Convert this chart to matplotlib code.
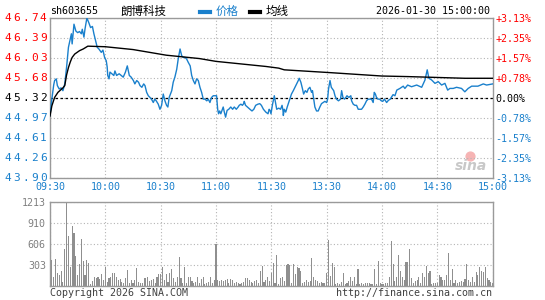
import matplotlib.pyplot as plt
from matplotlib.lines import Line2D

plt.rcParams['font.family'] = ['DejaVu Sans Mono', 'Noto Sans CJK SC']

# header texts
code = "sh603655"
name = "朗博科技"
stamp = "2026-01-30 15:00:00"
legend_names = ["价格", "均线"]

prev_close = 45.32
price_ticks = [43.90, 44.26, 44.61, 44.97, 45.32, 45.68, 46.03, 46.39, 46.74]
pct_labels = ["-3.13%", "-2.35%", "-1.57%", "-0.78%", "0.00%",
              "+0.78%", "+1.57%", "+2.35%", "+3.13%"]
time_labels = ["09:30", "10:00", "10:30", "11:00", "11:30",
               "13:30", "14:00", "14:30", "15:00"]
vol_ticks = [303, 606, 910, 1213]

# minutes since the open, price
t_price = [0, 1, 2, 2.5, 3.4, 4, 5, 6, 7, 8,
           9, 10, 11, 11.6, 12, 13, 14, 15, 16, 17,
           17.5, 18.4, 19, 20, 21, 22, 23, 23.8, 24.7, 25.6,
           26.5, 27.8, 28.7, 29.6, 30.5, 31, 31.3, 32, 32.5, 34.6,
           35.2, 36.1, 37.5, 38.6, 39.7, 40.9, 41.9, 43, 44, 45.2,
           46, 47, 48, 48.8, 49.8, 50.8, 51.5, 52.4, 53.3, 54.2,
           55, 56, 56.8, 57.6, 58.7, 59.6, 60.5, 61.4, 62.3, 63.2,
           63.9, 64.6, 66, 66.8, 67.7, 68.7, 69.5, 70.5, 71.4, 72.3,
           73.2, 74.1, 75, 76, 76.8, 77.7, 78.6, 79.5, 80.4, 81.3,
           82.2, 83.1, 84, 85, 85.8, 86.7, 87.6, 88.5, 90.3, 90.9,
           91.4, 92, 92.6, 93.9, 94.5, 95.2, 96, 96.9, 98, 99,
           99.9, 101, 102, 102.6, 103.5, 104.3, 105, 105.3, 106, 107,
           108.4, 109.5, 110.5, 111.5, 112.7, 113.7, 114.6, 115.7, 117, 118.2,
           118.8, 119.3, 119.8, 120.6, 121.6, 122.9, 124, 125, 125.8, 126.3,
           126.5, 127, 127.8, 128.6, 129.4, 130, 130.9, 131.9, 132.8, 133.7,
           134.6, 135.1, 136, 136.9, 137.5, 138.4, 139.3, 140, 140.9, 141.8,
           142.3, 143, 143.6, 144.5, 145.4, 146.3, 147.2, 148.1, 149, 150,
           150.5, 151, 151.8, 152.5, 153.8, 154.5, 155.3, 156.4, 157.5, 158.1,
           158.8, 159.6, 160.4, 161, 162, 163.1, 163.5, 164.4, 165.3, 166.2,
           167.1, 168, 168.9, 169.8, 170.7, 171.6, 172.5, 173.4, 174.3, 175.2,
           175.8, 176.4, 177, 177.8, 178.7, 179.6, 180.4, 181.3, 182.5, 183.5,
           184.5, 185.2, 186, 187, 188, 189.7, 191.5, 192.4, 193.9, 196,
           198.8, 201.5, 203.3, 204.5, 205.4, 206.9, 208.7, 210.5, 212.3, 214.1,
           215.6, 216.8, 218.6, 220.4, 223.1, 224.9, 226.7, 228.6, 232, 234.9,
           236.7, 240]
price = [45.01, 45.30, 45.55, 45.63, 45.66, 45.54, 45.48, 45.50, 45.45, 45.57,
         45.87, 46.22, 46.37, 46.46, 46.28, 46.63, 46.51, 46.48, 46.50, 46.46,
         46.54, 46.40, 46.55, 46.74, 46.66, 46.57, 46.59, 46.46, 46.34, 46.22,
         46.19, 46.13, 46.17, 46.04, 45.98, 45.87, 45.72, 45.66, 45.78, 45.72,
         45.80, 45.72, 45.75, 45.72, 45.69, 45.78, 45.89, 45.72, 45.69, 45.63,
         45.57, 45.63, 45.60, 45.54, 45.51, 45.57, 45.54, 45.42, 45.36, 45.33,
         45.30, 45.24, 45.30, 45.27, 45.21, 45.12, 45.19, 45.39, 45.27, 45.19,
         45.16, 45.33, 45.45, 45.60, 45.69, 45.83, 46.01, 46.19, 46.07, 46.04,
         46.04, 46.01, 45.95, 45.89, 45.72, 45.63, 45.57, 45.66, 45.63, 45.51,
         45.42, 45.30, 45.30, 45.27, 45.30, 45.24, 45.33, 45.36, 45.36, 45.12,
         45.04, 45.09, 45.04, 45.16, 45.07, 44.98, 45.10, 45.12, 45.16, 45.12,
         45.16, 45.12, 45.16, 45.19, 45.21, 45.19, 45.22, 45.26, 45.19, 45.16,
         45.12, 45.09, 45.12, 45.19, 45.21, 45.22, 45.19, 45.12, 45.07, 45.04,
         45.12, 45.10, 45.04, 45.20, 45.36, 45.12, 45.14, 45.12, 45.19, 45.10,
         45.01, 45.12, 45.07, 45.16, 45.24, 45.30, 45.39, 45.45, 45.51, 45.57,
         45.63, 45.67, 45.60, 45.48, 45.39, 45.45, 45.42, 45.48, 45.51, 45.42,
         45.45, 45.30, 45.16, 45.09, 45.09, 45.16, 45.22, 45.24, 45.26, 45.24,
         45.30, 45.48, 45.63, 45.51, 45.45, 45.36, 45.30, 45.27, 45.30, 45.45,
         45.33, 45.30, 45.33, 45.36, 45.33, 45.36, 45.27, 45.21, 45.19, 45.19,
         45.12, 45.12, 45.12, 45.16, 45.21, 45.27, 45.30, 45.30, 45.30, 45.24,
         45.42, 45.39, 45.33, 45.30, 45.30, 45.27, 45.26, 45.30, 45.24, 45.28,
         45.30, 45.34, 45.38, 45.36, 45.46, 45.49, 45.53, 45.49, 45.55, 45.52,
         45.55, 45.51, 45.64, 45.82, 45.67, 45.64, 45.58, 45.61, 45.55, 45.58,
         45.46, 45.49, 45.49, 45.51, 45.49, 45.43, 45.49, 45.53, 45.53, 45.57,
         45.55, 45.57]

# average price line
t_avg = [0, 1, 2.5, 4.3, 7, 8, 9, 10, 11, 12,
         13.4, 16, 18, 20.5, 30, 45, 63, 81, 90, 105,
         117, 124, 127, 152, 180, 194, 225, 240]
avg = [45.00, 45.18, 45.33, 45.42, 45.50, 45.54, 45.73, 45.86, 45.96, 46.04,
       46.10, 46.16, 46.19, 46.24, 46.23, 46.18, 46.08, 46.02, 45.97, 45.92,
       45.88, 45.85, 45.82, 45.77, 45.71, 45.70, 45.67, 45.67]

# volume per minute (241 minutes)
volume = [58, 370, 120, 385, 188, 154, 212, 58, 529, 1213,
          722, 274, 866, 755, 433, 154, 313, 678, 361, 154,
          370, 332, 24, 72, 120, 106, 120, 96, 168, 82,
          265, 58, 106, 130, 178, 178, 120, 82, 96, 58,
          34, 106, 226, 43, 82, 34, 82, 250, 58, 34,
          34, 106, 106, 120, 72, 82, 91, 34, 120, 168,
          168, 274, 82, 168, 58, 188, 236, 106, 58, 130,
          409, 106, 43, 265, 34, 120, 120, 72, 34, 58,
          130, 34, 91, 130, 24, 43, 58, 130, 43, 82,
          601, 82, 72, 82, 72, 82, 91, 43, 91, 82,
          34, 58, 43, 24, 34, 58, 106, 106, 82, 58,
          43, 72, 82, 34, 216, 284, 58, 82, 120, 72,
          188, 332, 34, 442, 24, 106, 120, 72, 298, 313,
          298, 34, 313, 168, 265, 250, 216, 34, 58, 82,
          58, 72, 404, 120, 82, 72, 43, 58, 34, 43,
          188, 659, 140, 332, 265, 24, 34, 24, 58, 188,
          24, 34, 72, 120, 72, 120, 24, 240, 24, 43,
          24, 34, 34, 34, 24, 24, 240, 24, 361, 34,
          24, 24, 34, 34, 120, 645, 313, 72, 120, 442,
          216, 120, 82, 337, 346, 529, 106, 34, 72, 82,
          120, 34, 178, 120, 284, 188, 216, 24, 34, 43,
          34, 154, 120, 82, 82, 154, 476, 82, 240, 34,
          82, 34, 58, 72, 58, 91, 313, 82, 58, 130,
          58, 202, 154, 265, 216, 202, 274, 106, 82, 58,
          34]

blue = '#1a80cc'
red = '#ff0000'
spine_c = '#9a9a9a'
grid_c = '#b4b4b4'
fs = 7.2

fig = plt.figure(figsize=(5.45, 3.0), dpi=100)
fig.patch.set_facecolor('white')

# price panel
ax = fig.add_axes([50/545, 1 - 178/300, 442.7/545, 160/300])
ax.plot(t_price, price, color=blue, lw=1.0, zorder=3)
ax.plot(t_avg, avg, color='black', lw=1.0, zorder=3)
ax.axhline(prev_close, color='black', ls=(0, (2, 2)), lw=0.9, zorder=2)
ax.set_xlim(0, 240)
ax.set_ylim(price_ticks[0], price_ticks[-1])
ax.set_xticks(range(0, 241, 30))
ax.set_xticklabels(time_labels, color=blue, fontsize=fs)
ax.set_yticks(price_ticks)
ax.set_yticklabels([])
ax.tick_params(length=0, pad=3)
ax.grid(color=grid_c, ls=(0, (1, 2)), lw=0.8)
for s in ax.spines.values():
    s.set_color(spine_c)
    s.set_linewidth(1.0)


def label_color(p):
    if p > prev_close:
        return red
    if p < prev_close:
        return blue
    return 'black'


# left price labels: a wider face, drawn one glyph at a time
for p in price_ticks:
    txt = f"{p:.2f}"
    for k, ch in enumerate(reversed(txt)):
        ax.annotate(ch, xy=(0, p), xycoords=('axes fraction', 'data'),
                    xytext=(-2.4 - k * 6.3, 0), textcoords='offset points',
                    ha='right', va='center', color=label_color(p), fontsize=8)

# right percent labels
ax2 = ax.twinx()
ax2.set_ylim(price_ticks[0], price_ticks[-1])
ax2.set_yticks(price_ticks)
ax2.set_yticklabels(pct_labels, fontsize=fs)
ax2.tick_params(length=0, pad=2)
for lab, p in zip(ax2.get_yticklabels(), price_ticks):
    lab.set_color(label_color(p))
for s in ax2.spines.values():
    s.set_visible(False)

# sina watermark
ax.scatter([0.949], [0.14], s=40, color='#f6b4b4', transform=ax.transAxes, zorder=1)
ax.text(0.952, 0.075, 'sina', transform=ax.transAxes, ha='center', va='center',
        fontsize=10, style='italic', weight='bold', color='#c8c8c8',
        family='DejaVu Sans', zorder=1)

# volume panel
axv = fig.add_axes([50/545, 1 - 285.7/300, 442.7/545, 84/300])
axv.bar(range(len(volume)), volume, width=0.6, color='#8f8f8f', linewidth=0)
axv.set_xlim(0, 240)
axv.set_ylim(0, vol_ticks[-1])
axv.set_xticks(range(0, 241, 30))
axv.set_xticklabels([])
axv.set_yticks(vol_ticks)
axv.set_yticklabels([str(v) for v in vol_ticks], color='#808080', fontsize=fs)
axv.tick_params(length=0, pad=3)
axv.grid(color=grid_c, ls=(0, (1, 2)), lw=0.8)
axv.set_axisbelow(True)
for s in axv.spines.values():
    s.set_color(spine_c)
    s.set_linewidth(1.0)

# header
fig.text(50/545, 1 - 11/300, code, ha='left', va='center', fontsize=fs, color='black')
fig.text(143/545, 1 - 11/300, name, ha='center', va='center', fontsize=8.3,
         color='black', family=['Noto Sans CJK SC'])
fig.add_artist(Line2D([200/545, 210/545], [1 - 12/300] * 2, color=blue, lw=3))
fig.text(216/545, 1 - 11/300, legend_names[0], ha='left', va='center', fontsize=8.3,
         color=blue, family=['Noto Sans CJK SC'])
fig.add_artist(Line2D([250/545, 260/545], [1 - 12/300] * 2, color='black', lw=3))
fig.text(266/545, 1 - 11/300, legend_names[1], ha='left', va='center', fontsize=8.3,
         color='black', family=['Noto Sans CJK SC'])
fig.text(490/545, 1 - 11/300, stamp, ha='right', va='center', fontsize=fs, color='black')

# footer
fig.text(50/545, 1 - 293/300, "Copyright 2026 SINA.COM", ha='left', va='center',
         fontsize=fs, color='#404040')
fig.text(492/545, 1 - 293/300, "http://finance.sina.com.cn", ha='right', va='center',
         fontsize=fs, color='#404040')

fig.savefig('out.png', dpi=100, facecolor='white')
